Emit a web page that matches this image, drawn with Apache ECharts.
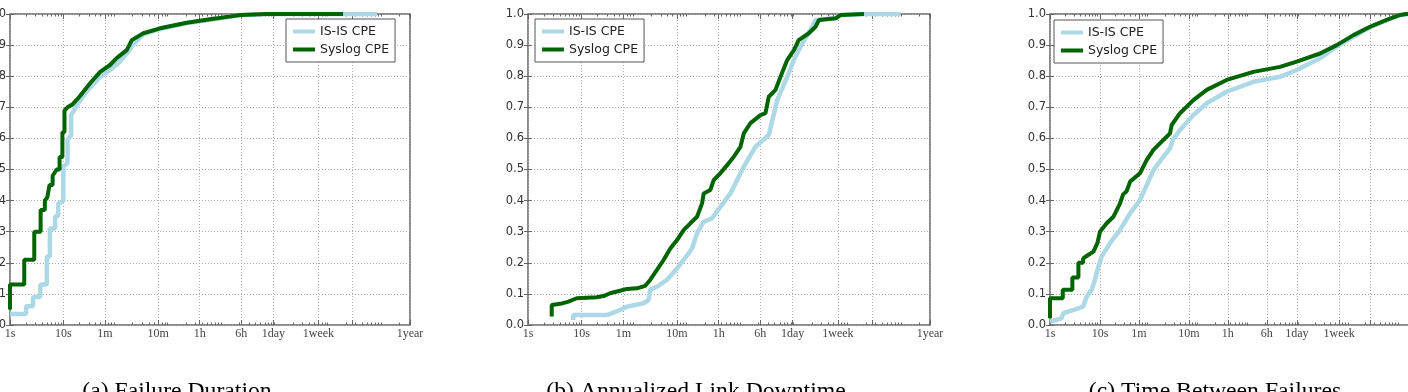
<!DOCTYPE html>
<html>
<head>
<meta charset="utf-8">
<script src="https://cdn.jsdelivr.net/npm/echarts@6.0.0/dist/echarts.min.js"></script>
<style>
  html, body { margin: 0; padding: 0; background: #fff; }
  #chart { width: 1408px; height: 392px; }
</style>
</head>
<body>
<div id="chart"></div>
<script>
// x values are in seconds (log scale), y values are the CDF

const tickSeconds = [1, 10, 60, 600, 3600, 21600, 86400, 604800, 2592000, 31536000];
const tickLabels = ['1s', '10s', '1m', '10m', '1h', '6h', '1day', '1week', '', '1year'];
const seriesNames = ['IS-IS CPE', 'Syslog CPE'];
const captions = ['(a) Failure Duration', '(b) Annualized Link Downtime', '(c) Time Between Failures'];

// (a) failure duration
const durIsis = [
  [1, 0.035], [2, 0.035], [2, 0.06], [2.7, 0.06], [2.7, 0.09], [3.7, 0.09], [3.7, 0.13], [4.9, 0.13],
  [4.9, 0.22], [5.6, 0.22], [5.6, 0.31], [7, 0.31], [7, 0.35], [8, 0.35], [8, 0.39], [10, 0.40],
  [10, 0.51], [12, 0.52], [12, 0.595], [14, 0.61], [14, 0.675], [19, 0.713], [27, 0.75], [49, 0.798],
  [75, 0.82], [115, 0.847], [165, 0.879], [210, 0.905], [320, 0.935], [650, 0.952], [2000, 0.970],
  [7500, 0.985], [20000, 0.996], [65000, 1.0], [7.6e6, 1.0]
];
const durSyslog = [
  [1, 0.05], [1, 0.13], [1.85, 0.13], [1.85, 0.21], [2.85, 0.21], [2.85, 0.30], [3.75, 0.30], [3.75, 0.37],
  [4.5, 0.37], [4.5, 0.40], [5, 0.41], [5.5, 0.45], [6.3, 0.45], [6.3, 0.48], [7.5, 0.50], [8.5, 0.50],
  [8.5, 0.54], [9.6, 0.54], [9.6, 0.62], [10.5, 0.62], [10.5, 0.69], [12, 0.70], [15, 0.71], [20, 0.734],
  [32, 0.778], [49, 0.814], [75, 0.836], [100, 0.858], [154, 0.884], [192, 0.916], [316, 0.938],
  [650, 0.954], [2050, 0.972], [7500, 0.986], [20600, 0.997], [65000, 1.0], [1.75e6, 1.0]
];

// (b) annualized link downtime
const downIsis = [
  [7, 0.016], [7, 0.032], [29.5, 0.032], [52, 0.048], [70, 0.059], [143, 0.07], [177, 0.08], [190, 0.113],
  [254, 0.123], [390, 0.145], [602, 0.182], [800, 0.209], [1150, 0.246], [1422, 0.295], [1892, 0.332],
  [2700, 0.343], [3880, 0.38], [5970, 0.423], [10580, 0.509], [17500, 0.573], [31000, 0.611],
  [44500, 0.723], [68400, 0.798], [91200, 0.852], [121000, 0.895], [186000, 0.949], [231000, 0.981],
  [550000, 0.986], [680000, 0.997], [1.85e6, 1.0], [8.9e6, 1.0]
];
const downSyslog = [
  [2.77, 0.027], [2.77, 0.064], [4, 0.068], [5.7, 0.075], [8.1, 0.086], [19, 0.089], [25.6, 0.093],
  [34, 0.102], [52, 0.110], [70, 0.116], [107, 0.118], [154, 0.126], [190, 0.145], [254, 0.177],
  [338, 0.209], [451, 0.246], [602, 0.273], [800, 0.305], [1067, 0.327], [1422, 0.348], [1766, 0.391],
  [1892, 0.423], [2514, 0.434], [2911, 0.466], [3880, 0.488], [5176, 0.514], [6890, 0.541],
  [9185, 0.573], [10580, 0.616], [14120, 0.649], [21700, 0.675], [26900, 0.681], [31000, 0.734],
  [41400, 0.756], [51300, 0.798], [68400, 0.852], [91200, 0.884], [112000, 0.916], [173000, 0.938],
  [231000, 0.959], [268000, 0.981], [550000, 0.986], [680000, 0.997], [1.85e6, 1.0]
];

// (c) time between failures
const tbfIsis = [
  [1, 0.011], [1.3, 0.016], [1.7, 0.022], [1.85, 0.038], [2.9, 0.048], [4.6, 0.059], [5.4, 0.091],
  [6.8, 0.113], [7.9, 0.145], [9.3, 0.188], [10.8, 0.22], [15.8, 0.263], [25, 0.305], [40, 0.359],
  [63, 0.402], [117, 0.498], [185, 0.541], [251, 0.568], [284, 0.595], [398, 0.627], [736, 0.675],
  [1360, 0.713], [3415, 0.75], [11660, 0.782], [39800, 0.798], [85800, 0.82], [251000, 0.858],
  [541000, 0.895], [1.17e6, 0.927], [2.5e6, 0.957], [5.4e6, 0.98], [1e7, 0.996], [1.35e7, 1.0], [3.15e7, 1.0]
];
const tbfSyslog = [
  [1, 0.022], [1, 0.086], [1.8, 0.086], [1.8, 0.113], [2.8, 0.113], [2.8, 0.153], [3.7, 0.153],
  [3.7, 0.20], [4.6, 0.20], [4.6, 0.214], [5.8, 0.225], [7.4, 0.236], [8.85, 0.263], [10, 0.30],
  [13.6, 0.327], [18.5, 0.348], [25, 0.39], [29, 0.42], [34, 0.43], [40, 0.461], [63, 0.488],
  [86, 0.531], [117, 0.563], [185, 0.595], [251, 0.616], [271, 0.643], [398, 0.681], [736, 0.723],
  [1360, 0.756], [3415, 0.788], [11660, 0.814], [39800, 0.83], [85800, 0.847], [251000, 0.873],
  [541000, 0.90], [1.17e6, 0.932], [2.5e6, 0.959], [5.4e6, 0.981], [1e7, 0.997], [1.35e7, 1.0], [3.15e7, 1.0]
];

const xMax = Math.log10(31536000);
const majorVals = tickSeconds.map(s => Math.log10(s));
const minorVals = [];
for (let n = 0; n <= 7; n++) {
  for (let k = 2; k <= 9; k++) {
    const v = Math.log10(k * Math.pow(10, n));
    if (v < xMax) minorVals.push(v);
  }
}

function toLog(points) {
  return points.map(p => [Math.log10(p[0]), p[1]]);
}

function xLabel(value) {
  for (let i = 0; i < majorVals.length; i++) {
    if (Math.abs(majorVals[i] - value) < 1e-6) return tickLabels[i];
  }
  return '';
}

const panels = [
  { left: 10, width: 400, legend: [286, 19], caption: 177, data: [durIsis, durSyslog] },
  { left: 528, width: 402, legend: [535, 19], caption: 696, data: [downIsis, downSyslog] },
  { left: 1050, width: 375, legend: [1054, 20], caption: 1215, data: [tbfIsis, tbfSyslog] }
];

const frameColor = '#666';
const gridLine = { show: true, lineStyle: { color: '#aaa', type: [1, 2], width: 1 } };
const colors = ['#add8e6', '#006400'];
const widths = [4.5, 4];

const grid = [], xAxis = [], yAxis = [], series = [], legend = [], graphic = [];

panels.forEach((p, i) => {
  grid.push({
    left: p.left, top: 14, width: p.width, height: 311,
    outerBoundsMode: 'none', containLabel: false,
    show: true, borderColor: frameColor, borderWidth: 1.5, backgroundColor: 'transparent'
  });

  const base = { gridIndex: i, type: 'value', min: 0, max: xMax, axisLine: { show: false } };
  // bottom, labelled ticks + vertical grid lines
  xAxis.push(Object.assign({}, base, {
    position: 'bottom',
    axisTick: { inside: true, length: 5, customValues: majorVals, lineStyle: { color: frameColor } },
    axisLabel: {
      customValues: majorVals, formatter: xLabel, margin: 3,
      fontFamily: 'Liberation Serif', fontSize: 12, color: '#444'
    },
    splitLine: gridLine
  }));
  // bottom minor ticks
  xAxis.push(Object.assign({}, base, {
    position: 'bottom',
    axisTick: { inside: true, length: 2.5, customValues: minorVals, lineStyle: { color: frameColor } },
    axisLabel: { show: false }, splitLine: { show: false }
  }));
  // top major ticks
  xAxis.push(Object.assign({}, base, {
    position: 'top',
    axisTick: { inside: true, length: 5, customValues: majorVals, lineStyle: { color: frameColor } },
    axisLabel: { show: false }, splitLine: { show: false }
  }));
  // top minor ticks
  xAxis.push(Object.assign({}, base, {
    position: 'top',
    axisTick: { inside: true, length: 2.5, customValues: minorVals, lineStyle: { color: frameColor } },
    axisLabel: { show: false }, splitLine: { show: false }
  }));

  yAxis.push({
    gridIndex: i, type: 'value', min: 0, max: 1, interval: 0.1, position: 'left',
    axisLine: { show: false },
    axisTick: { inside: true, length: 4, lineStyle: { color: frameColor } },
    axisLabel: {
      margin: 4, formatter: v => v.toFixed(1),
      fontFamily: 'DejaVu Sans', fontSize: 11.5, color: '#333'
    },
    splitLine: gridLine
  });
  yAxis.push({
    gridIndex: i, type: 'value', min: 0, max: 1, interval: 0.1, position: 'right',
    axisLine: { show: false },
    axisTick: { inside: true, length: 4, lineStyle: { color: frameColor } },
    axisLabel: { show: false }, splitLine: { show: false }
  });

  p.data.forEach((d, k) => {
    series.push({
      name: seriesNames[k], type: 'line',
      xAxisIndex: i * 4, yAxisIndex: i * 2,
      data: toLog(d), symbol: 'none', color: colors[k], z: 2 + k,
      lineStyle: { color: colors[k], width: widths[k] }
    });
  });

  legend.push({
    data: seriesNames, orient: 'vertical', left: p.legend[0], top: p.legend[1],
    icon: 'rect', itemWidth: 22, itemHeight: 4, itemGap: 5, itemTextGap: 12,
    padding: [6, 6, 6, 7], borderColor: '#555', borderWidth: 1, backgroundColor: '#fff',
    selectedMode: false,
    textStyle: { fontFamily: 'DejaVu Sans', fontSize: 12.5, color: '#222', lineHeight: 13 }
  });

  graphic.push({
    type: 'text', x: p.caption, y: 392,
    style: {
      text: captions[i], align: 'center', verticalAlign: 'middle',
      font: '23.7px "Liberation Serif"', fill: '#000'
    }
  });
});

const chart = echarts.init(document.getElementById('chart'));
chart.setOption({
  animation: false,
  grid, xAxis, yAxis, series, legend, graphic
});
</script>
</body>
</html>
